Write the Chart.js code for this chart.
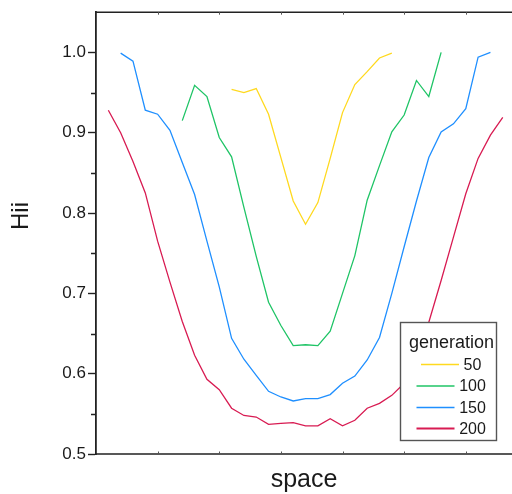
<!DOCTYPE html>
<html>
<head>
<meta charset="utf-8">
<script src="https://cdn.jsdelivr.net/npm/chart.js@4.4.1/dist/chart.umd.min.js"></script>
<style>
  html, body { margin: 0; padding: 0; background: #fff; }
  #wrap { width: 512px; height: 494px; overflow: hidden; }
</style>
</head>
<body>
<div id="wrap"><canvas id="chart" width="512" height="494"></canvas></div>
<script>
// position along the domain (one step per sample)
const space = [1, 2, 3, 4, 5, 6, 7, 8, 9, 10, 11, 12, 13, 14, 15, 16, 17,
  18, 19, 20, 21, 22, 23, 24, 25, 26, 27, 28, 29, 30, 31, 32, 33];

const generations = ['50', '100', '150', '200'];

const hii50 = [null, null, null, null, null, null, null, null, null, null,
  0.954, 0.950, 0.955, 0.923, 0.869, 0.815, 0.786, 0.813, 0.868, 0.925,
  0.960, 0.976, 0.993, 0.999, null, null, null, null, null, null, null, null, null];

const hii100 = [null, null, null, null, null, null,
  0.915, 0.959, 0.945, 0.894, 0.870, 0.807, 0.746, 0.689, 0.660, 0.635,
  0.636, 0.635, 0.653, 0.700, 0.747, 0.816, 0.859, 0.901, 0.922, 0.965,
  0.945, 1.000, null, null, null, null, null];

const hii150 = [null,
  0.999, 0.989, 0.928, 0.923, 0.903, 0.863, 0.823, 0.765, 0.708, 0.644,
  0.618, 0.598, 0.578, 0.571, 0.566, 0.569, 0.569, 0.574, 0.588, 0.597,
  0.617, 0.645, 0.700, 0.758, 0.815, 0.869, 0.901, 0.911, 0.930, 0.994,
  1.000, null];

const hii200 = [0.928, 0.900, 0.864, 0.825, 0.765, 0.714, 0.665, 0.623, 0.593,
  0.580, 0.557, 0.548, 0.546, 0.537, 0.538, 0.539, 0.535, 0.535, 0.544,
  0.535, 0.542, 0.557, 0.563, 0.573, 0.588, 0.620, 0.664, 0.716, 0.770,
  0.824, 0.868, 0.897, 0.919];

const yTicks = [0.5, 0.6, 0.7, 0.8, 0.9, 1.0];
const yMinorTicks = [0.55, 0.65, 0.75, 0.85, 0.95];
const xTicks = [5, 10, 15, 20, 25, 30];

const colors = ['#ffd91f', '#1fc466', '#1f8fff', '#d81b52'];
const FONT = '"Liberation Sans", Arial, sans-serif';
const INK = '#1a1a1a';

const toPoints = (vals) => space.map((x, i) => ({ x: x, y: vals[i] }));

const datasets = [hii50, hii100, hii150, hii200].map((vals, i) => ({
  label: generations[i],
  data: toPoints(vals),
  borderColor: colors[i],
  backgroundColor: colors[i],
  borderWidth: 1.3,
  pointRadius: 0,
  tension: 0,
  spanGaps: false
}));

// frame, minor ticks, axis titles and the boxed legend on top of the lines
const framePlugin = {
  id: 'frame',
  afterDraw(chart) {
    const { ctx, chartArea, scales } = chart;
    const xs = scales.x, ys = scales.y;
    ctx.save();
    ctx.strokeStyle = '#222';
    ctx.lineWidth = 1.6;
    ctx.beginPath();
    ctx.moveTo(chartArea.left, chartArea.top);
    ctx.lineTo(chartArea.right + 2, chartArea.top);
    ctx.moveTo(chartArea.left, chartArea.bottom);
    ctx.lineTo(chartArea.right + 2, chartArea.bottom);
    ctx.stroke();

    ctx.lineWidth = 1;
    ctx.strokeStyle = '#555';
    ctx.beginPath();
    xTicks.forEach(v => {
      const px = Math.round(xs.getPixelForValue(v)) + 0.5;
      ctx.moveTo(px, chartArea.top);
      ctx.lineTo(px, chartArea.top + 2.5);
      ctx.moveTo(px, chartArea.bottom);
      ctx.lineTo(px, chartArea.bottom - 2.5);
    });
    ctx.stroke();

    ctx.strokeStyle = '#222';
    ctx.lineWidth = 1.3;
    ctx.beginPath();
    yMinorTicks.forEach(v => {
      const py = Math.round(ys.getPixelForValue(v)) + 0.5;
      ctx.moveTo(chartArea.left, py);
      ctx.lineTo(chartArea.left - 5, py);
    });
    ctx.stroke();

    // axis titles
    ctx.fillStyle = INK;
    ctx.textAlign = 'center';
    ctx.textBaseline = 'middle';
    ctx.font = '25px ' + FONT;
    ctx.fillText('space', (chartArea.left + chartArea.right) / 2, 480);
    ctx.save();
    ctx.translate(21, 216);
    ctx.rotate(-Math.PI / 2);
    ctx.font = '24px ' + FONT;
    ctx.fillText('Hii', 0, 0);
    ctx.restore();

    // legend box
    const bx = 400.5, by = 322.5, bw = 96, bh = 118;
    ctx.fillStyle = '#fff';
    ctx.fillRect(bx, by, bw, bh);
    ctx.strokeStyle = '#555';
    ctx.lineWidth = 1.4;
    ctx.strokeRect(bx, by, bw, bh);

    ctx.fillStyle = INK;
    ctx.font = '18px ' + FONT;
    ctx.fillText('generation', 451.5, 343);
    ctx.font = '16px ' + FONT;
    const rows = [364.5, 386, 407.5, 428.5];
    generations.forEach((g, i) => {
      ctx.strokeStyle = colors[i];
      ctx.lineWidth = i === 3 ? 2 : 1.6;
      ctx.beginPath();
      const x0 = i === 0 ? 421 : 416.5;
      ctx.moveTo(x0, rows[i]);
      ctx.lineTo(x0 + 38, rows[i]);
      ctx.stroke();
      ctx.fillText(g, 472.5, rows[i] + 1);
    });
    ctx.restore();
  }
};

const ctx = document.getElementById('chart').getContext('2d');
new Chart(ctx, {
  type: 'line',
  data: { datasets: datasets },
  options: {
    responsive: false,
    animation: false,
    devicePixelRatio: 1,
    layout: { padding: { top: 11, bottom: 40, left: 0, right: 0 } },
    plugins: {
      legend: { display: false },
      tooltip: { enabled: false }
    },
    scales: {
      x: {
        type: 'linear',
        display: false,
        min: 0,
        max: 33.75
      },
      y: {
        min: 0.5,
        max: 1.05,
        afterFit: (scale) => { scale.width = 96; },
        afterBuildTicks: (scale) => { scale.ticks = yTicks.map(v => ({ value: v })); },
        ticks: {
          callback: (v) => Number(v).toFixed(1),
          color: INK,
          font: { family: FONT, size: 17 },
          padding: 2
        },
        grid: {
          drawOnChartArea: false,
          tickLength: 8,
          tickWidth: 1.4,
          tickColor: '#222'
        },
        border: { color: '#222', width: 1.8 }
      }
    }
  },
  plugins: [framePlugin]
});
</script>
</body>
</html>
